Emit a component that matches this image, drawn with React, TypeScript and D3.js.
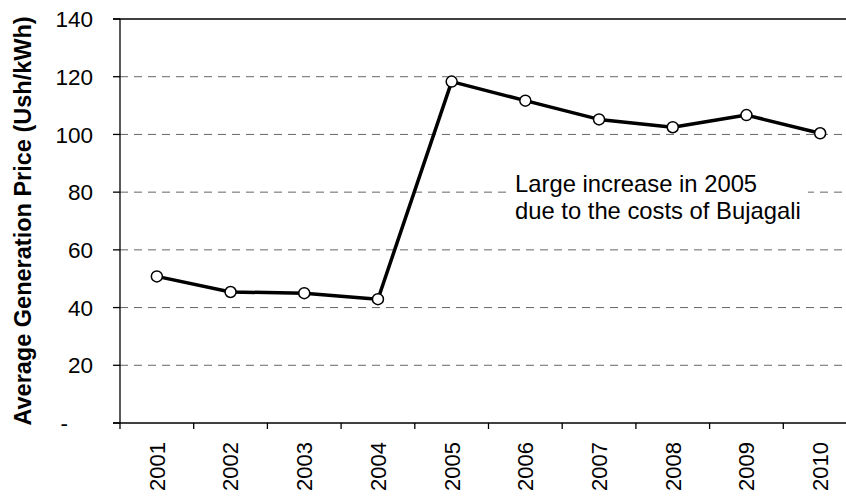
import React from "react";
import * as d3 from "d3";

const years = ["2001", "2002", "2003", "2004", "2005", "2006", "2007", "2008", "2009", "2010"];
const prices = [50.8, 45.4, 45.0, 42.9, 118.3, 111.7, 105.2, 102.5, 106.7, 100.4];
const yTicks = [0, 20, 40, 60, 80, 100, 120, 140];
const noteLines = ["Large increase in 2005", "due to the costs of Bujagali"];

const W = 846;
const H = 498;
const margin = { top: 19, left: 120, bottom: 75 };
const plotRight = 857;
const font = "'Liberation Sans', Arial, sans-serif";

export default function App() {
  const x = d3.scaleBand().domain(years).range([margin.left, plotRight]);
  const y = d3
    .scaleLinear()
    .domain([0, 140])
    .range([H - margin.bottom, margin.top]);

  const line = d3
    .line<number>()
    .x((_, i) => (x(years[i]) as number) + x.bandwidth() / 2)
    .y((d) => y(d));

  const y0 = y(0);
  const bounds = [...years.map((d) => x(d) as number), plotRight];

  return (
    <svg
      width={W}
      height={H}
      style={{ position: "absolute", left: 0, top: 0, background: "#fff" }}
      fontFamily={font}
    >
      {/* grid */}
      {yTicks
        .filter((t) => t > 0 && t < 140)
        .map((t) => (
          <line
            key={t}
            x1={margin.left}
            x2={W}
            y1={y(t)}
            y2={y(t)}
            stroke="#666"
            strokeWidth={1}
            strokeDasharray="8,6"
          />
        ))}
      <line x1={margin.left - 7} x2={W} y1={y(140)} y2={y(140)} stroke="#000" strokeWidth={1.3} />

      {/* annotation box hides the grid behind it */}
      <rect x={510} y={170} width={298} height={56} fill="#fff" />
      {noteLines.map((t, i) => (
        <text key={t} x={515} y={192 + i * 27} fontSize={23.8} fill="#000">
          {t}
        </text>
      ))}

      {/* y axis */}
      <line x1={margin.left} x2={margin.left} y1={y(140)} y2={y0} stroke="#000" strokeWidth={1.3} />
      {yTicks.map((t) => (
        <g key={t}>
          <line x1={margin.left - 7} x2={margin.left} y1={y(t)} y2={y(t)} stroke="#000" strokeWidth={1.3} />
          <text
            x={t === 0 ? 68 : 93}
            y={y(t)}
            dy="0.36em"
            textAnchor="end"
            fontSize={22.5}
            fill="#000"
          >
            {t === 0 ? "-" : t}
          </text>
        </g>
      ))}

      {/* x axis */}
      <line x1={margin.left - 7} x2={W} y1={y0} y2={y0} stroke="#000" strokeWidth={1.3} />
      {bounds.map((b, i) => (
        <line key={i} x1={b} x2={b} y1={y0} y2={y0 + 6} stroke="#000" strokeWidth={1.3} />
      ))}
      {years.map((d) => {
        const cx = (x(d) as number) + x.bandwidth() / 2;
        return (
          <text
            key={d}
            transform={`translate(${cx},${y0 + 19}) rotate(-90)`}
            dy="0.36em"
            textAnchor="end"
            fontSize={22}
            fill="#000"
          >
            {d}
          </text>
        );
      })}

      <text
        transform={`translate(23,${(13 + 429) / 2}) rotate(-90)`}
        dy="0.36em"
        textAnchor="middle"
        fontSize={23.5}
        fontWeight="bold"
        fill="#000"
      >
        Average Generation Price (Ush/kWh)
      </text>

      {/* series */}
      <path d={line(prices) || ""} fill="none" stroke="#000" strokeWidth={3.5} strokeLinejoin="round" />
      {prices.map((v, i) => (
        <circle
          key={years[i]}
          cx={(x(years[i]) as number) + x.bandwidth() / 2}
          cy={y(v)}
          r={5.5}
          fill="#fff"
          stroke="#000"
          strokeWidth={1.5}
        />
      ))}
    </svg>
  );
}
